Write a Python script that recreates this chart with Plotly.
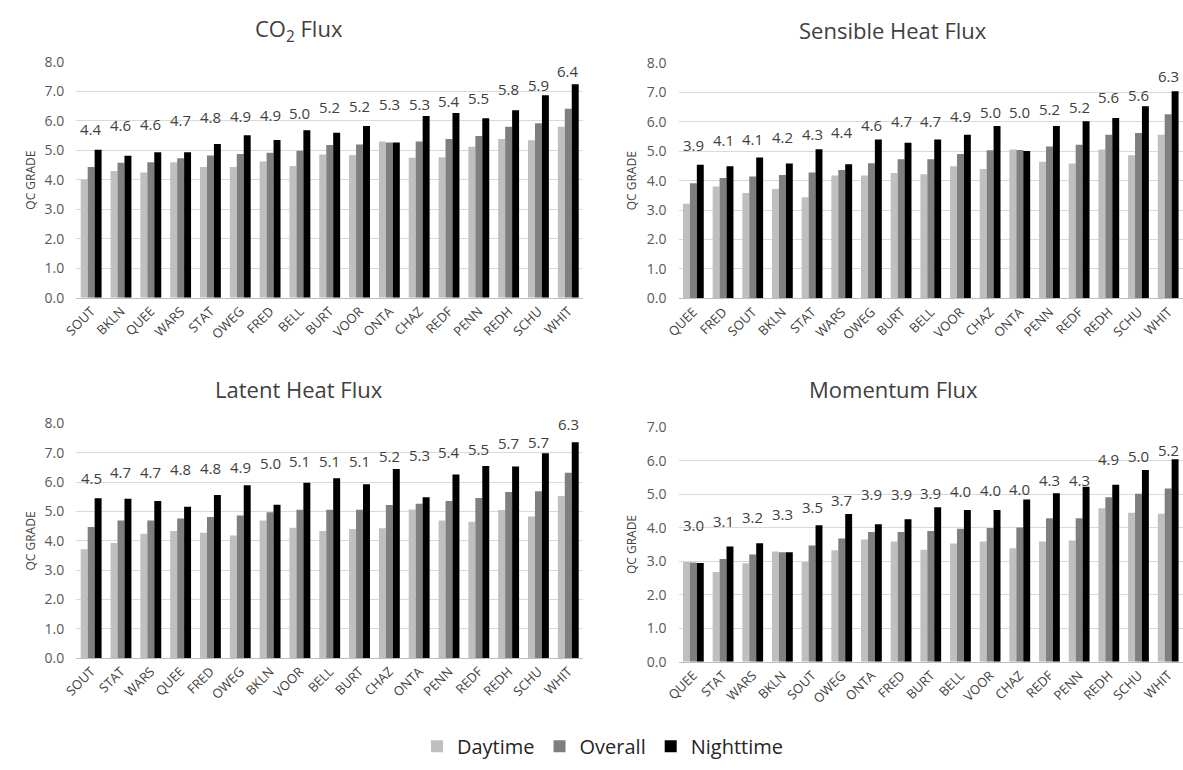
import plotly.graph_objects as go

W, H = 1183, 770

# ---------------- data ----------------
co2_sites = ["SOUT", "BKLN", "QUEE", "WARS", "STAT", "OWEG", "FRED", "BELL", "BURT",
             "VOOR", "ONTA", "CHAZ", "REDF", "PENN", "REDH", "SCHU", "WHIT"]
co2_day = [4.01, 4.30, 4.25, 4.60, 4.44, 4.44, 4.62, 4.47, 4.86, 4.84, 5.30, 4.75, 4.77, 5.12, 5.39, 5.34, 5.80]
co2_overall = [4.44, 4.58, 4.60, 4.73, 4.83, 4.88, 4.92, 4.99, 5.18, 5.20, 5.27, 5.30, 5.39, 5.49, 5.80, 5.92, 6.41]
co2_night = [5.02, 4.82, 4.94, 4.94, 5.22, 5.51, 5.35, 5.68, 5.60, 5.83, 5.27, 6.17, 6.27, 6.09, 6.36, 6.87, 7.24]

sh_sites = ["QUEE", "FRED", "SOUT", "BKLN", "STAT", "WARS", "OWEG", "BURT", "BELL",
            "VOOR", "CHAZ", "ONTA", "PENN", "REDF", "REDH", "SCHU", "WHIT"]
sh_day = [3.22, 3.80, 3.58, 3.72, 3.44, 4.18, 4.18, 4.26, 4.22, 4.49, 4.40, 5.06, 4.64, 4.58, 5.06, 4.86, 5.56]
sh_overall = [3.91, 4.09, 4.14, 4.19, 4.28, 4.36, 4.59, 4.73, 4.73, 4.91, 5.03, 5.04, 5.16, 5.22, 5.56, 5.62, 6.26]
sh_night = [4.54, 4.49, 4.79, 4.58, 5.07, 4.56, 5.40, 5.29, 5.40, 5.56, 5.86, 5.01, 5.86, 6.02, 6.13, 6.53, 7.04]

lh_sites = ["SOUT", "STAT", "WARS", "QUEE", "FRED", "OWEG", "BKLN", "VOOR", "BELL",
            "BURT", "CHAZ", "ONTA", "PENN", "REDF", "REDH", "SCHU", "WHIT"]
lh_day = [3.71, 3.92, 4.24, 4.33, 4.27, 4.18, 4.69, 4.44, 4.33, 4.40, 4.43, 5.07, 4.69, 4.65, 5.05, 4.83, 5.53]
lh_overall = [4.47, 4.69, 4.69, 4.76, 4.81, 4.86, 4.97, 5.06, 5.06, 5.06, 5.22, 5.26, 5.36, 5.46, 5.66, 5.69, 6.32]
lh_night = [5.45, 5.43, 5.36, 5.16, 5.56, 5.89, 5.23, 5.98, 6.13, 5.93, 6.45, 5.48, 6.26, 6.55, 6.53, 6.99, 7.36]

mf_sites = ["QUEE", "STAT", "WARS", "BKLN", "SOUT", "OWEG", "ONTA", "FRED", "BURT",
            "BELL", "VOOR", "CHAZ", "REDF", "PENN", "REDH", "SCHU", "WHIT"]
mf_day = [2.98, 2.68, 2.94, 3.29, 2.98, 3.33, 3.65, 3.59, 3.34, 3.53, 3.59, 3.39, 3.59, 3.62, 4.58, 4.45, 4.42]
mf_overall = [2.96, 3.07, 3.20, 3.27, 3.47, 3.68, 3.87, 3.87, 3.90, 3.97, 3.99, 4.01, 4.28, 4.28, 4.91, 5.01, 5.17]
mf_night = [2.95, 3.44, 3.54, 3.27, 4.07, 4.41, 4.10, 4.25, 4.61, 4.53, 4.53, 4.84, 5.03, 5.22, 5.28, 5.72, 6.04]

series_names = ["Daytime", "Overall", "Nighttime"]
series_colors = ["#BFBFBF", "#7F7F7F", "#000000"]

panels = [
    dict(title="CO<sub>2</sub> Flux", sites=co2_sites, vals=[co2_day, co2_overall, co2_night], ymax=8),
    dict(title="Sensible Heat Flux", sites=sh_sites, vals=[sh_day, sh_overall, sh_night], ymax=8),
    dict(title="Latent Heat Flux", sites=lh_sites, vals=[lh_day, lh_overall, lh_night], ymax=8),
    dict(title="Momentum Flux", sites=mf_sites, vals=[mf_day, mf_overall, mf_night], ymax=7),
]

# ---------------- layout geometry (pixels) ----------------
def px_x(v):
    return v / W

def px_y(v):
    return 1 - v / H

xdom = [(63, 576), (672.5, 1183), (63, 576), (672.5, 1183)]
ydom = [(53.3, 295.0), (54.3, 295.7), (424.0, 664.3), (427.7, 668.3)]  # (top px, bottom px)
title_pos = [(288, 21), (890, 21), (288, 389), (890, 389)]
ylabel_x = [17, 625, 17, 625]
label_shift = [38, 38, 49, 38]

fig = go.Figure()
annotations = []
TXT = "#404040"
FONT = "Open Sans"

for i, p in enumerate(panels):
    ax = "" if i == 0 else str(i + 1)
    for s in range(3):
        fig.add_trace(go.Bar(
            x=p["sites"], y=p["vals"][s], name=series_names[s],
            marker=dict(color=series_colors[s], line=dict(width=0)),
            xaxis="x" + ax, yaxis="y" + ax,
            showlegend=(i == 0), legendgroup=series_names[s],
            hoverinfo="x+y+name",
        ))
    fig.layout["xaxis" + ax] = dict(
        domain=[px_x(xdom[i][0]), px_x(xdom[i][1])], anchor="y" + ax,
        type="category", range=[-0.5, 16.5],
        tickangle=-45, tickfont=dict(family=FONT, size=13, color=TXT),
        showgrid=False, showline=True, linecolor="#BFBFBF", linewidth=1,
        ticks="", fixedrange=True,
    )
    fig.layout["yaxis" + ax] = dict(
        domain=[px_y(ydom[i][1]), px_y(ydom[i][0])], anchor="x" + ax,
        range=[0, p["ymax"]], dtick=1, tickformat=".1f",
        tickfont=dict(family=FONT, size=14, color="#595959"),
        showgrid=True, gridcolor="#D9D9D9", gridwidth=1,
        zeroline=False, showline=False, ticks="", ticklabelstandoff=11,
        fixedrange=True,
    )
    # panel title
    annotations.append(dict(
        x=px_x(title_pos[i][0]), y=px_y(title_pos[i][1]), xref="paper", yref="paper",
        text=p["title"], showarrow=False, xanchor="center", yanchor="middle",
        font=dict(family=FONT, size=22, color="#404040"),
    ))
    # y-axis title
    annotations.append(dict(
        x=px_x(ylabel_x[i]), y=px_y((ydom[i][0] + ydom[i][1]) / 2), xref="paper", yref="paper",
        text="QC GRADE", textangle=-90, showarrow=False, xanchor="center", yanchor="middle",
        font=dict(family=FONT, size=12, color=TXT),
    ))
    # overall value labels
    for site, v in zip(p["sites"], p["vals"][1]):
        annotations.append(dict(
            x=site, y=v, xref="x" + ax, yref="y" + ax,
            text=f"{v:.1f}", showarrow=False, xanchor="center", yanchor="middle",
            yshift=label_shift[i], font=dict(family=FONT, size=15, color=TXT),
        ))

fig.update_layout(
    width=W, height=H, margin=dict(l=0, r=0, t=0, b=0),
    paper_bgcolor="white", plot_bgcolor="white",
    barmode="group", bargap=0.3, bargroupgap=0,
    annotations=annotations,
    legend=dict(orientation="h", x=px_x(596), y=px_y(755), xanchor="center", yanchor="middle",
                font=dict(family=FONT, size=20, color="#262626"), itemwidth=30,
                traceorder="normal"),
    font=dict(family=FONT),
)

fig.write_html("out.html")
